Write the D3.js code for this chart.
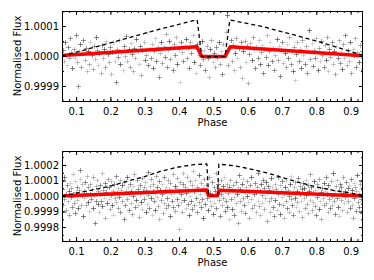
<!DOCTYPE html>
<html>
<head>
<meta charset="utf-8">
<script src="https://cdn.jsdelivr.net/npm/d3@7"></script>
<style>
  body { margin: 0; background: #fff; }
  svg { display: block; }
  text { font-family: "DejaVu Sans", sans-serif; font-size: 10px; fill: #000; }
</style>
</head>
<body>
<svg id="chart" width="374" height="280"></svg>
<script>
// x ticks (phase)
var phaseTicks = [0.1, 0.2, 0.3, 0.4, 0.5, 0.6, 0.7, 0.8, 0.9];
var topFluxTicks = [0.9999, 1.0000, 1.0001];
var botFluxTicks = [0.9998, 0.9999, 1.0000, 1.0001, 1.0002];

// observations, [phase, flux offset in ppm]
var topObs = [[0.061,20],[0.064,-15],[0.067,45],[0.070,5],[0.073,-30],[0.076,30],[0.080,-8],[0.083,60],[0.086,12],[0.089,-40],[0.093,25],[0.096,-5],[0.099,70],[0.102,-20],[0.105,-100],[0.108,15],[0.112,40],[0.115,-35],[0.118,8],[0.121,55],[0.125,-12],[0.128,28],[0.131,-50],[0.135,18],[0.138,-25],[0.141,48],[0.145,2],[0.148,-42],[0.151,33],[0.155,-10],[0.158,62],[0.161,20],[0.165,-30],[0.168,10],[0.172,-55],[0.175,38],[0.178,-5],[0.182,22],[0.185,-38],[0.188,50],[0.192,6],[0.195,-20],[0.199,30],[0.202,-60],[0.205,14],[0.209,45],[0.212,-15],[0.215,-87],[0.219,25],[0.222,-3],[0.226,55],[0.229,-28],[0.232,12],[0.236,-45],[0.239,35],[0.243,0],[0.246,68],[0.249,-18],[0.253,22],[0.256,-35],[0.259,42],[0.263,8],[0.266,-50],[0.270,28],[0.273,-8],[0.276,58],[0.280,15],[0.283,-25],[0.287,33],[0.290,-62],[0.293,20],[0.297,48],[0.300,-12],[0.304,5],[0.307,80],[0.310,-30],[0.314,25],[0.317,-5],[0.321,40],[0.324,-40],[0.327,18],[0.331,60],[0.334,-15],[0.338,30],[0.341,-70],[0.344,10],[0.348,45],[0.351,-22],[0.355,35],[0.358,-2],[0.361,72],[0.365,-35],[0.368,20],[0.372,50],[0.375,-10],[0.378,28],[0.382,-48],[0.385,40],[0.389,5],[0.392,65],[0.395,-28],[0.399,22],[0.402,-85],[0.406,48],[0.409,12],[0.412,-18],[0.416,35],[0.419,58],[0.423,-5],[0.426,25],[0.430,-40],[0.433,45],[0.436,10],[0.440,70],[0.443,-20],[0.447,30],[0.450,-55],[0.453,40],[0.457,5],[0.460,-30],[0.464,15],[0.467,50],[0.470,-10],[0.474,20],[0.477,-45],[0.481,35],[0.484,-5],[0.487,-70],[0.491,25],[0.494,55],[0.498,-20],[0.501,10],[0.504,-38],[0.508,30],[0.511,-8],[0.515,48],[0.518,-25],[0.522,15],[0.525,-60],[0.529,40],[0.532,5],[0.536,80],[0.539,136],[0.543,-30],[0.546,22],[0.550,55],[0.553,-15],[0.557,38],[0.560,-45],[0.563,10],[0.567,60],[0.570,-5],[0.574,28],[0.577,-35],[0.581,45],[0.584,-72],[0.587,18],[0.591,50],[0.594,-20],[0.598,32],[0.601,-90],[0.605,8],[0.608,42],[0.612,-12],[0.615,65],[0.619,20],[0.622,-40],[0.625,30],[0.629,-8],[0.632,52],[0.636,-25],[0.639,12],[0.642,38],[0.646,-55],[0.649,25],[0.653,-2],[0.656,70],[0.660,-30],[0.663,15],[0.666,45],[0.670,-18],[0.673,28],[0.677,-48],[0.680,5],[0.684,58],[0.687,-12],[0.690,35],[0.694,-65],[0.697,20],[0.701,48],[0.704,-22],[0.708,10],[0.711,-38],[0.714,40],[0.718,-5],[0.721,62],[0.725,-28],[0.728,18],[0.732,-50],[0.735,30],[0.738,-80],[0.742,8],[0.745,45],[0.749,-15],[0.752,25],[0.756,-40],[0.759,55],[0.762,2],[0.766,-25],[0.769,35],[0.773,-58],[0.776,15],[0.780,86],[0.783,-10],[0.786,42],[0.790,-32],[0.793,20],[0.797,-5],[0.800,60],[0.804,-45],[0.807,28],[0.810,-18],[0.814,50],[0.817,5],[0.821,-35],[0.824,38],[0.827,-12],[0.831,65],[0.834,-50],[0.838,22],[0.841,-2],[0.845,45],[0.848,-28],[0.851,15],[0.855,-60],[0.858,32],[0.862,-8],[0.865,52],[0.868,-22],[0.872,10],[0.875,-42],[0.879,40],[0.882,-5],[0.885,70],[0.889,-30],[0.892,20],[0.896,-15],[0.899,48],[0.902,-55],[0.906,25],[0.909,2],[0.913,60],[0.916,-35],[0.919,12],[0.923,-20],[0.926,38],[0.930,-48],[0.933,15],[0.935,-5]];

var botObs = [[0.060,45],[0.062,-60],[0.064,120],[0.066,-20],[0.068,200],[0.070,10],[0.072,-90],[0.074,70],[0.076,-35],[0.078,30],[0.080,-120],[0.082,85],[0.084,-5],[0.086,50],[0.088,-70],[0.090,140],[0.092,15],[0.094,-45],[0.096,95],[0.098,-110],[0.100,25],[0.102,60],[0.104,-25],[0.106,-80],[0.108,40],[0.110,110],[0.112,168],[0.114,-55],[0.116,5],[0.118,75],[0.120,-130],[0.122,35],[0.124,-15],[0.126,90],[0.128,-60],[0.130,20],[0.132,130],[0.134,-40],[0.136,55],[0.138,-95],[0.140,10],[0.142,80],[0.144,-20],[0.146,45],[0.148,-75],[0.150,120],[0.152,0],[0.155,-172],[0.157,65],[0.159,-30],[0.161,100],[0.163,-50],[0.165,30],[0.167,-105],[0.169,70],[0.171,15],[0.173,-35],[0.175,150],[0.177,-65],[0.179,40],[0.181,-10],[0.183,85],[0.185,-140],[0.187,25],[0.189,55],[0.191,-45],[0.193,110],[0.195,-20],[0.197,60],[0.199,-85],[0.201,5],[0.203,95],[0.205,-60],[0.207,35],[0.209,-120],[0.211,75],[0.213,-15],[0.215,130],[0.217,-40],[0.219,20],[0.221,-75],[0.223,50],[0.225,-5],[0.227,105],[0.229,-100],[0.231,40],[0.233,70],[0.235,-30],[0.237,15],[0.239,-150],[0.241,90],[0.243,-55],[0.245,30],[0.247,125],[0.249,-20],[0.251,55],[0.253,-90],[0.255,10],[0.257,80],[0.259,-45],[0.261,35],[0.263,-115],[0.265,65],[0.267,0],[0.269,140],[0.271,-70],[0.273,25],[0.275,-25],[0.277,100],[0.279,-60],[0.281,45],[0.283,-135],[0.285,70],[0.287,15],[0.289,-40],[0.291,115],[0.293,-85],[0.295,30],[0.297,60],[0.299,-20],[0.301,90],[0.303,-105],[0.305,40],[0.307,-50],[0.309,155],[0.311,5],[0.313,-75],[0.315,65],[0.317,-15],[0.319,110],[0.321,-125],[0.323,35],[0.325,80],[0.327,-35],[0.329,20],[0.331,-90],[0.333,130],[0.335,-5],[0.337,55],[0.339,-65],[0.341,95],[0.343,-150],[0.345,40],[0.347,-25],[0.349,75],[0.351,10],[0.353,-110],[0.355,120],[0.357,-45],[0.359,30],[0.361,-80],[0.363,60],[0.365,-10],[0.367,105],[0.369,-55],[0.371,45],[0.373,-130],[0.375,85],[0.377,15],[0.379,-35],[0.381,140],[0.383,-70],[0.385,25],[0.387,65],[0.389,-95],[0.391,50],[0.393,-20],[0.395,115],[0.397,-60],[0.399,-215],[0.401,35],[0.403,90],[0.405,-40],[0.407,10],[0.409,-100],[0.411,75],[0.413,150],[0.415,-25],[0.417,55],[0.419,-75],[0.421,20],[0.423,125],[0.425,-50],[0.427,40],[0.429,-120],[0.431,95],[0.433,0],[0.435,-30],[0.437,70],[0.439,-85],[0.441,160],[0.443,30],[0.445,-55],[0.447,100],[0.449,-15],[0.451,60],[0.453,-105],[0.455,45],[0.457,135],[0.459,-40],[0.461,15],[0.463,-70],[0.465,85],[0.467,-20],[0.469,50],[0.471,-140],[0.473,110],[0.475,25],[0.477,-50],[0.479,70],[0.481,-10],[0.483,40],[0.485,-90],[0.487,120],[0.489,-30],[0.491,20],[0.493,-65],[0.495,90],[0.497,5],[0.499,-115],[0.501,55],[0.503,-45],[0.505,30],[0.507,145],[0.509,-80],[0.511,10],[0.513,75],[0.515,-25],[0.517,45],[0.519,-130],[0.521,100],[0.523,15],[0.525,-55],[0.527,65],[0.529,-10],[0.531,125],[0.533,-95],[0.535,35],[0.537,-35],[0.539,80],[0.541,-70],[0.543,20],[0.545,-150],[0.547,55],[0.549,105],[0.551,-20],[0.553,40],[0.555,-85],[0.557,70],[0.559,-5],[0.561,-120],[0.563,30],[0.565,90],[0.567,-45],[0.569,15],[0.571,-175],[0.573,60],[0.575,135],[0.577,-30],[0.579,45],[0.581,-95],[0.583,80],[0.585,-15],[0.587,110],[0.589,-60],[0.591,25],[0.593,-110],[0.595,55],[0.597,0],[0.599,95],[0.601,-40],[0.603,30],[0.605,-140],[0.607,70],[0.609,-20],[0.611,120],[0.613,-75],[0.615,40],[0.617,10],[0.619,-55],[0.621,85],[0.623,-100],[0.625,25],[0.627,60],[0.629,-30],[0.631,145],[0.633,-65],[0.635,35],[0.637,-125],[0.639,75],[0.641,5],[0.643,-45],[0.645,100],[0.647,-85],[0.649,50],[0.651,-15],[0.653,90],[0.655,-160],[0.657,20],[0.659,65],[0.661,-35],[0.663,40],[0.665,-105],[0.667,115],[0.669,-10],[0.671,55],[0.673,-70],[0.675,30],[0.677,-130],[0.679,80],[0.681,-25],[0.683,45],[0.685,-90],[0.687,125],[0.689,10],[0.691,-50],[0.693,70],[0.695,-115],[0.697,35],[0.699,-5],[0.701,95],[0.703,-60],[0.705,20],[0.707,-145],[0.709,60],[0.711,-30],[0.713,105],[0.715,-80],[0.717,40],[0.719,0],[0.721,-100],[0.723,75],[0.725,-20],[0.727,130],[0.729,-55],[0.731,25],[0.733,-125],[0.735,55],[0.737,-10],[0.739,90],[0.741,-70],[0.743,35],[0.745,-40],[0.747,115],[0.749,-95],[0.751,15],[0.753,65],[0.755,-30],[0.757,45],[0.759,-135],[0.761,85],[0.763,-15],[0.765,50],[0.767,-75],[0.769,100],[0.771,5],[0.773,-50],[0.775,70],[0.777,-110],[0.779,30],[0.781,140],[0.783,-25],[0.785,55],[0.787,-90],[0.789,20],[0.791,-40],[0.793,95],[0.795,-65],[0.797,40],[0.799,-120],[0.801,75],[0.803,-5],[0.805,60],[0.807,-85],[0.809,110],[0.811,-30],[0.813,25],[0.815,-150],[0.817,50],[0.819,-15],[0.821,85],[0.823,-60],[0.825,35],[0.827,120],[0.829,-45],[0.831,10],[0.833,-100],[0.835,70],[0.837,-20],[0.839,45],[0.841,-80],[0.843,95],[0.845,0],[0.847,-55],[0.849,150],[0.851,-35],[0.853,30],[0.855,-115],[0.857,65],[0.859,-10],[0.861,105],[0.863,-70],[0.865,40],[0.867,-130],[0.869,80],[0.871,-25],[0.873,55],[0.875,-90],[0.877,20],[0.879,125],[0.881,-45],[0.883,35],[0.885,-5],[0.887,90],[0.889,-105],[0.891,50],[0.893,-30],[0.895,70],[0.897,-75],[0.899,15],[0.901,110],[0.903,-55],[0.905,40],[0.907,-140],[0.909,85],[0.911,-15],[0.913,60],[0.915,-95],[0.917,30],[0.919,135],[0.921,-40],[0.923,20],[0.925,-70],[0.927,75],[0.929,-20],[0.931,45],[0.933,-110],[0.935,100]];

// models, [phase, ppm]
var topFit = [[0.059,2],[0.452,31],[0.466,-2],[0.534,-2],[0.549,31],[0.936,1]];
var topAlt = [[0.059,0],[0.15,28],[0.248,59],[0.345,90],[0.450,120],[0.453,120],[0.466,-2],[0.534,-2],[0.548,120],[0.64,99],[0.73,72],[0.83,40],[0.936,2]];
var botFit = [[0.059,0],[0.481,38],[0.486,2],[0.512,2],[0.517,37],[0.936,0]];
var botAlt = [[0.059,0],[0.15,40],[0.199,63],[0.248,95],[0.296,122],[0.345,158],[0.394,185],[0.442,202],[0.481,206],[0.486,2],[0.512,2],[0.516,205],[0.564,194],[0.612,172],[0.661,146],[0.709,114],[0.758,82],[0.806,56],[0.855,34],[0.936,5]];

var svg = d3.select("#chart");
var left = 62, right = 363;
var x = d3.scaleLinear().domain([0.059, 0.936]).range([left, right]);
var shades = [0.45, 0.25, 0.6, 0.35, 0.18, 0.5, 0.3];
var plus = "M-2.5,0H2.5M0,-2.5V2.5";

function drawPanel(id, top, bottom, yDomain, yTicks, obs, fit, alt) {
    var y = d3.scaleLinear().domain(yDomain).range([bottom, top]);
    var g = svg.append("g");
    var flux = function (v) { return 1 + v / 1e6; };

    g.append("clipPath").attr("id", id).append("rect")
        .attr("x", left).attr("y", top).attr("width", right - left).attr("height", bottom - top);
    var plot = g.append("g").attr("clip-path", "url(#" + id + ")");

    plot.selectAll("path.obs").data(obs).enter().append("path")
        .attr("class", "obs")
        .attr("d", plus)
        .attr("transform", function (d) {
            return "translate(" + (Math.round(x(d[0])) + 0.5) + "," + (Math.round(y(flux(d[1]))) + 0.5) + ")";
        })
        .attr("stroke", "#333").attr("stroke-width", 1).attr("fill", "none")
        .attr("stroke-opacity", function (d, i) { return shades[i % shades.length]; });

    var line = d3.line().x(function (d) { return x(d[0]); }).y(function (d) { return y(flux(d[1])); });
    plot.append("path").datum(fit).attr("d", line)
        .attr("fill", "none").attr("stroke", "#ff0000").attr("stroke-width", 3.5).attr("stroke-linejoin", "round");
    plot.append("path").datum(alt).attr("d", line)
        .attr("fill", "none").attr("stroke", "#000").attr("stroke-width", 1.3).attr("stroke-dasharray", "4,3");

    // minor ticks
    var minorX = d3.range(0.06, 0.94, 0.02);
    var minorY = d3.range(Math.ceil(yDomain[0] / 5e-5) * 5e-5, yDomain[1], 5e-5);
    g.append("g").attr("transform", "translate(0," + bottom + ")")
        .call(d3.axisBottom(x).tickValues(minorX).tickSize(-2).tickFormat(""));
    g.append("g").attr("transform", "translate(0," + top + ")")
        .call(d3.axisTop(x).tickValues(minorX).tickSize(-2).tickFormat(""));
    g.append("g").attr("transform", "translate(" + left + ",0)")
        .call(d3.axisLeft(y).tickValues(minorY).tickSize(-2).tickFormat(""));
    g.append("g").attr("transform", "translate(" + right + ",0)")
        .call(d3.axisRight(y).tickValues(minorY).tickSize(-2).tickFormat(""));

    // major ticks
    g.append("g").attr("transform", "translate(0," + bottom + ")")
        .call(d3.axisBottom(x).tickValues(phaseTicks).tickSize(-4).tickPadding(7).tickFormat(d3.format(".1f")));
    g.append("g").attr("transform", "translate(0," + top + ")")
        .call(d3.axisTop(x).tickValues(phaseTicks).tickSize(-4).tickFormat(""));
    g.append("g").attr("transform", "translate(" + left + ",0)")
        .call(d3.axisLeft(y).tickValues(yTicks).tickSize(-4).tickPadding(3).tickFormat(d3.format(".4f")));
    g.append("g").attr("transform", "translate(" + right + ",0)")
        .call(d3.axisRight(y).tickValues(yTicks).tickSize(-4).tickFormat(""));

    g.selectAll(".domain").remove();
    g.selectAll(".tick line").attr("stroke", "#000");
    g.selectAll(".tick text").attr("font-family", "DejaVu Sans").attr("font-size", 10).attr("fill", "#000");

    g.append("rect").attr("x", left + 0.5).attr("y", top + 0.5)
        .attr("width", right - left - 1).attr("height", bottom - top)
        .attr("fill", "none").attr("stroke", "#000").attr("stroke-width", 1);

    g.append("text").attr("x", (left + right) / 2).attr("y", bottom + 24.5)
        .attr("text-anchor", "middle").text("Phase");
    g.append("text").attr("transform", "translate(20.5," + (top + bottom) / 2 + ") rotate(-90)")
        .attr("text-anchor", "middle").text("Normalised Flux");
}

drawPanel("clipTop", 11, 101, [0.99985, 1.00015], topFluxTicks, topObs, topFit, topAlt);
drawPanel("clipBot", 151, 241, [0.99971, 1.00029], botFluxTicks, botObs, botFit, botAlt);
</script>
</body>
</html>
